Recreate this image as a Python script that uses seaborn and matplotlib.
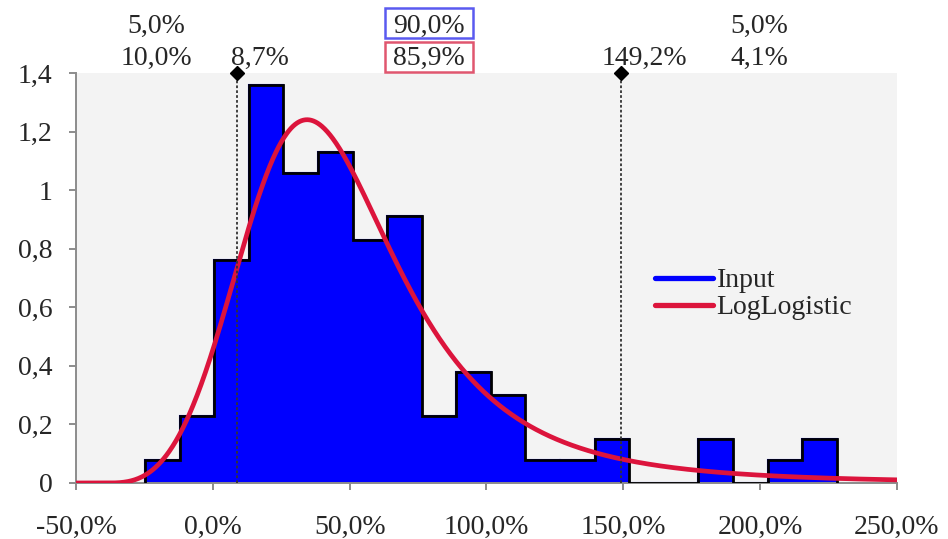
import numpy as np
import pandas as pd
import matplotlib
matplotlib.use("Agg")
import matplotlib.pyplot as plt
from matplotlib.lines import Line2D
from matplotlib.patches import Rectangle
from matplotlib.ticker import FuncFormatter
import seaborn as sns

# ---- data -------------------------------------------------------------
# histogram of the input sample (bin edges as fractions, 1.0 = 100 %)
bin_start = -0.248
bin_width = 0.1264
bin_heights = [0.08, 0.23, 0.76, 1.36, 1.06, 1.13, 0.83, 0.91, 0.23, 0.38,
               0.30, 0.08, 0.08, 0.15, 0.0, 0.0, 0.15, 0.0, 0.08, 0.15]

# fitted LogLogistic distribution (shape, scale, location)
ll_alpha = 3.9
ll_beta = 0.84
ll_gamma = -0.39

# delimiters and the probability shares left / between / right of them
delimiters = [0.087, 1.492]
input_shares = [0.050, 0.900, 0.050]
fit_shares = [0.100, 0.859, 0.041]

series_names = ["Input", "LogLogistic"]
x_ticks = [-0.5, 0.0, 0.5, 1.0, 1.5, 2.0, 2.5]
y_ticks = [0, 0.2, 0.4, 0.6, 0.8, 1.0, 1.2, 1.4]

BLUE = "#0000ff"
RED = "#dc143c"
FS = 20

# ---- style ------------------------------------------------------------
sns.set_theme(style="white")
plt.rcParams["font.family"] = ["Liberation Serif", "DejaVu Serif"]
plt.rcParams["font.size"] = FS


def comma(v, decimals):
    return f"{v:.{decimals}f}".replace(".", ",")


def pct(v):
    return comma(v * 100, 1) + "%"


W, H = 948, 539
fig = plt.figure(figsize=(W / 100, H / 100), dpi=100)
ax = fig.add_axes([76 / W, 1 - 483 / H, (897 - 76) / W, (483 - 73) / H])
ax.set_facecolor("#f3f3f3")

edges = [bin_start + bin_width * k for k in range(len(bin_heights) + 1)]
centers = [(edges[k] + edges[k + 1]) / 2 for k in range(len(bin_heights))]
hist_df = pd.DataFrame({"x": centers, "h": bin_heights})

# filled bars
sns.histplot(data=hist_df, x="x", weights="h", bins=edges, stat="count",
             color=BLUE, alpha=1, edgecolor=BLUE, linewidth=1.5, ax=ax,
             zorder=2)
# black step outline
ax.stairs(bin_heights, edges, baseline=0, color="black", linewidth=2,
          zorder=3)

# LogLogistic density
xs = np.linspace(-0.5, 2.5, 1200)
u = np.clip(xs - ll_gamma, 1e-12, None)
z = (u / ll_beta) ** ll_alpha
pdf = np.where(xs > ll_gamma, (ll_alpha / u) * z / (1 + z) ** 2, 0.0)
sns.lineplot(x=xs, y=pdf, color=RED, linewidth=3.4, ax=ax, zorder=4)

# axes
ax.set_xlim(-0.5, 2.5)
ax.set_ylim(0, 1.4)
ax.set_xticks(x_ticks)
ax.set_yticks(y_ticks)
ax.xaxis.set_major_formatter(FuncFormatter(lambda v, p: comma(v * 100, 1) + "%"))
ax.yaxis.set_major_formatter(
    FuncFormatter(lambda v, p: "0" if abs(v) < 1e-9 else
                  (comma(v, 0) if abs(v - round(v)) < 1e-9 else comma(v, 1))))
ax.set_xlabel("")
ax.set_ylabel("")
for side in ("top", "right"):
    ax.spines[side].set_visible(False)
for side in ("left", "bottom"):
    ax.spines[side].set_color("#8c8c8c")
    ax.spines[side].set_linewidth(1.4)
ax.tick_params(axis="x", direction="out", length=5, width=1.4,
               color="#8c8c8c", pad=18, labelsize=FS, bottom=True)
ax.tick_params(axis="y", direction="out", length=5, width=1.4,
               color="#8c8c8c", pad=12, labelsize=FS, left=True)

# delimiter lines with diamond markers
for d in delimiters:
    ax.plot([d, d], [0, 1.4], color="#333333", linestyle=(0, (1.5, 1.2)),
            linewidth=1.3, zorder=5, clip_on=False)
    ax.plot([d], [1.4], marker="D", color="black", markersize=7.5,
            zorder=6, clip_on=False)
    ax.annotate(pct(d), xy=(d, 1.4), xycoords="data",
                xytext=(17, 6), textcoords="offset points",
                ha="center", va="baseline", fontsize=FS)


def to_px(xv):
    return ax.transData.transform((xv, 0))[0]


# probability shares above the plot
bounds = [-0.5] + delimiters + [2.5]
row_base = [33, 65]          # text baselines, pixels from the top
box_rows = [(8, 38, "#5a5af0"), (42, 72, "#e0566f")]
for i in range(3):
    xc = (to_px(bounds[i]) + to_px(bounds[i + 1])) / 2
    for r, txt in enumerate([pct(input_shares[i]), pct(fit_shares[i])]):
        fig.text(xc / W, 1 - row_base[r] / H, txt, ha="center",
                 va="baseline", fontsize=FS)
    if i == 1:
        for top, bottom, col in box_rows:
            fig.add_artist(Rectangle(((xc - 44) / W, 1 - bottom / H),
                                     88 / W, (bottom - top) / H,
                                     transform=fig.transFigure, fill=False,
                                     edgecolor=col, linewidth=1.8))

# legend
handles = [Line2D([0], [0], color=BLUE, linewidth=3.8),
           Line2D([0], [0], color=RED, linewidth=3.8)]
ax.legend(handles, series_names, loc="upper left",
          bbox_to_anchor=((655 - 76) / (897 - 76), 1 - (268 - 73) / (483 - 73)),
          frameon=False, fontsize=FS, handlelength=2.1, handletextpad=0.12,
          labelspacing=0.05, borderaxespad=0, borderpad=0)

fig.savefig("out.png", dpi=100, facecolor="white")
